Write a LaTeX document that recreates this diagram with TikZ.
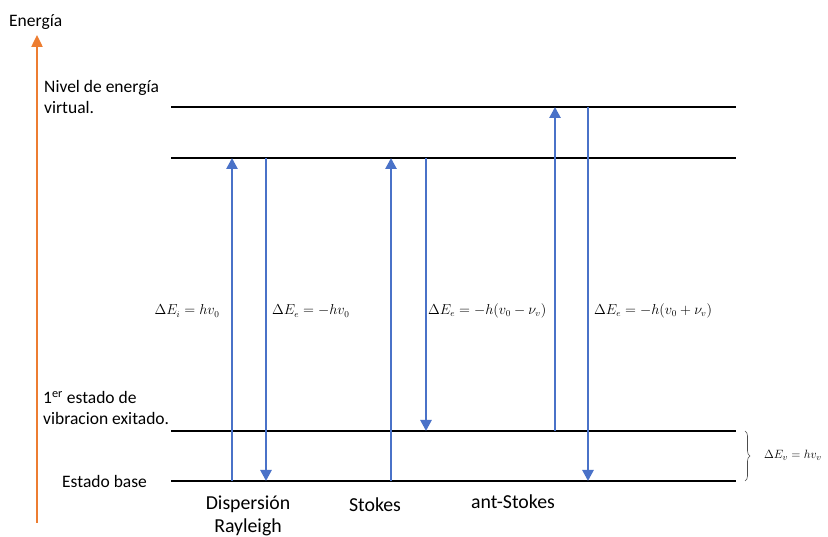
\documentclass[tikz,border=0pt]{standalone}
\usepackage{fontspec}
\setmainfont{Carlito}
\usetikzlibrary{arrows.meta,decorations.pathreplacing}
\definecolor{bluearr}{HTML}{4A72C8}
\definecolor{orangeax}{HTML}{ED7D31}
\begin{document}
\begin{tikzpicture}[x=1pt,y=1pt,
  level/.style={line width=1.7pt,black},
  trans/.style={line width=2.6pt,bluearr,-{Triangle[width=11pt,length=11pt]}},
  lbl/.style={font=\fontsize{17.5}{21}\selectfont,inner sep=0pt,align=left},
  plbl/.style={font=\fontsize{19.8}{23}\selectfont,inner sep=0pt,align=center},
  mlbl/.style={font=\fontsize{13.5}{16}\selectfont,inner sep=0pt}]
\useasboundingbox (0,0) rectangle (828,537);
% axis
\coordinate (axb) at (37,14);
\coordinate (axt) at (37,502);
\draw[line width=2.4pt,orangeax,-{Triangle[width=11pt,length=12pt]}] (axb) -- (axt);
\node[lbl,anchor=west] (en) at (9,515) {Energía};
% levels
\foreach \n/\y in {v2/430,v1/379,e1/106,g/56}{
  \coordinate (\n L) at (171,\y);
  \coordinate (\n R) at (736,\y);
  \draw[level] (\n L) -- (\n R);
}
% level labels
\node[lbl,anchor=west] (virt) at (44,440) {Nivel de energía\\virtual.};
\node[lbl,anchor=west] (exc) at (43,129) {1\textsuperscript{er} estado de\\vibracion exitado.};
\node[lbl,anchor=west] (base) at (62,56) {Estado base};
% transitions
\foreach \n/\x/\a/\b in {a/232/56/379, b/266/379/56, c/391/56/379, d/426/379/106, e/555/106/430, f/588/430/56}{
  \coordinate (\n s) at (\x,\a);
  \coordinate (\n t) at (\x,\b);
  \draw[trans] (\n s) -- (\n t);
}
% energy labels
\node[mlbl] (la) at (187,226) {$\Delta E_i = hv_0$};
\node[mlbl,anchor=west] (lb) at (272,226) {$\Delta E_e = -hv_0$};
\node[mlbl,anchor=west] (lc) at (428,226) {$\Delta E_e = -h(v_0-\nu_v)$};
\node[mlbl,anchor=west] (ld) at (594,226) {$\Delta E_e = -h(v_0+\nu_v)$};
% brace
\coordinate (bt) at (745,106);
\coordinate (bb) at (745,56);
\draw[line width=0.6pt,black!70,decorate,decoration={brace,amplitude=5pt}] (bt) -- (bb);
\node[mlbl,anchor=west,font=\fontsize{12.3}{14}\selectfont] (lv) at (764,82) {$\Delta E_v = hv_v$};
% process names
\node[plbl] (ray) at (248,21) {Dispersión\\Rayleigh};
\node[plbl] (sto) at (375,32) {Stokes};
\node[plbl] (ant) at (513,35) {ant-Stokes};
\end{tikzpicture}
\end{document}
